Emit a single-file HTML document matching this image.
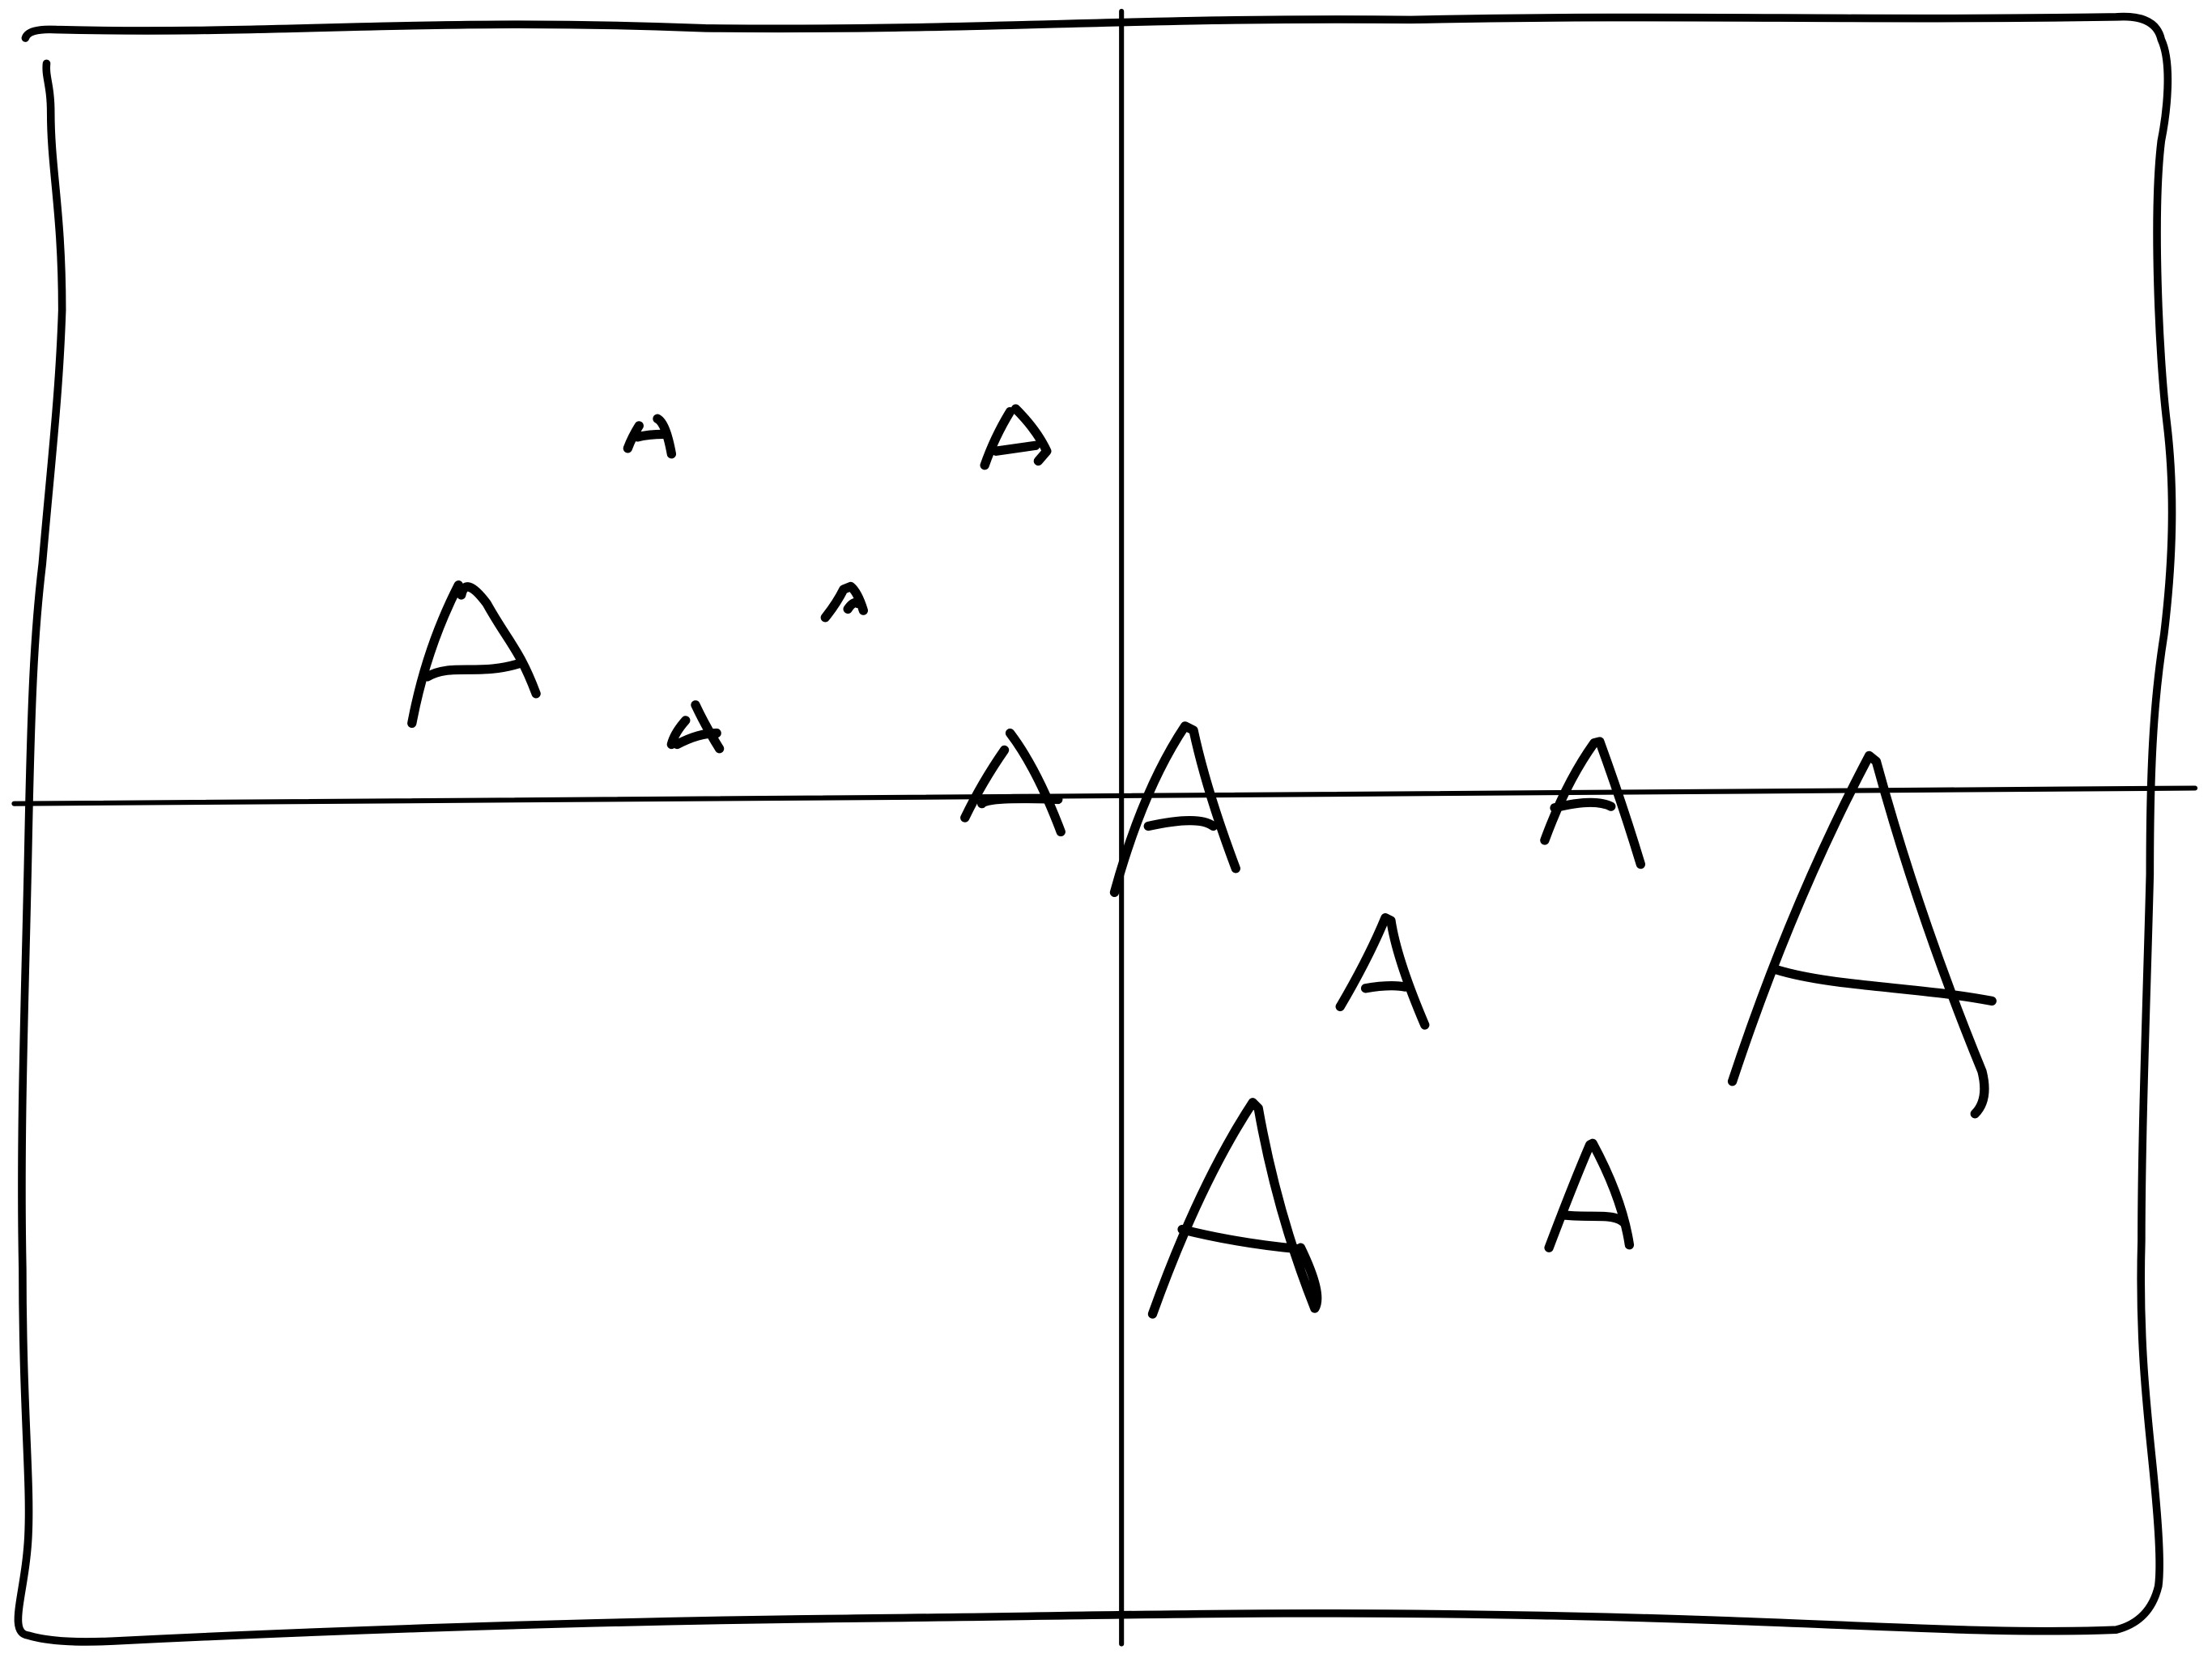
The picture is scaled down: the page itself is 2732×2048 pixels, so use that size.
<!DOCTYPE html>
<html><head><meta charset="utf-8"><style>
html,body{margin:0;padding:0;background:#fff;width:2732px;height:2048px;overflow:hidden}
svg{display:block}
</style></head><body>
<svg width="2732" height="2048" viewBox="0 0 1568 1176" preserveAspectRatio="none" xmlns="http://www.w3.org/2000/svg">
<g fill="none" stroke="#000" stroke-linecap="round" stroke-linejoin="round">
<path stroke-width="5.5" d="M18,27 Q20,20 40,21 C200,25 300,12 500,20 C700,22 800,12 1000,14 C1200,10 1300,15 1500,12 Q1528,10 1532,28 C1540,45 1536,80 1532,100 C1526,150 1530,250 1536,300 C1542,350 1540,400 1534,450 C1526,500 1524,550 1524,620 C1522,700 1518,800 1518,880 C1516,950 1522,1000 1526,1040 C1530,1080 1532,1110 1530,1125 Q1524,1150 1500,1156 C1400,1160 1300,1150 1100,1146 C900,1142 800,1146 600,1148 C400,1150 200,1158 80,1164 Q40,1166 20,1160 C5,1158 18,1130 20,1090 C22,1050 16,1000 16,900 C14,800 18,700 20,600 C22,500 24,450 30,400 C36,330 42,280 44,220 C44,150 36,120 36,80 C36,60 32,55 33,45"/>
<path stroke-width="3.5" d="M795,8 L795,1166"/>
<path stroke-width="3.5" d="M10,570 L1556,559"/>
<g stroke-width="6.5">
<path d="M292,513 Q302,460 325,415 M327,422 Q330,408 345,428 C360,455 368,460 380,492 M303,480 C320,470 340,480 370,470"/>
<path d="M445,318 Q448,310 453,302 M466,297 Q472,300 476,322 M452,310 Q460,308 470,308"/>
<path d="M698,330 Q705,310 716,292 M720,290 Q735,305 742,320 L736,327 M706,320 Q720,318 734,316"/>
<path d="M585,438 Q593,428 598,418 L603,416 Q608,420 612,433 M601,432 Q605,426 608,428"/>
<path d="M476,528 Q478,520 486,511 M493,500 Q500,515 510,531 M480,528 Q495,520 508,520"/>
<path d="M684,580 Q696,555 712,532 M716,520 Q735,545 752,590 M696,570 Q700,565 750,567"/>
<path d="M790,633 Q810,560 840,515 L846,518 Q855,560 876,616 M814,586 Q850,578 860,586"/>
<path d="M1095,596 Q1110,555 1130,527 L1134,526 Q1150,570 1163,613 M1102,573 Q1130,566 1142,572"/>
<path d="M1228,767 Q1270,640 1325,536 L1330,540 Q1360,650 1405,760 Q1410,780 1400,790 M1260,688 C1300,700 1360,700 1412,710"/>
<path d="M950,714 Q970,680 982,651 L986,653 Q990,680 1010,727 M968,701 Q985,698 996,700"/>
<path d="M817,932 Q850,840 888,782 L892,786 Q905,860 932,928 Q938,918 922,885 M838,872 C870,880 900,884 922,886"/>
<path d="M1098,885 Q1115,840 1127,812 L1129,811 Q1150,850 1155,883 M1110,862 C1130,864 1145,860 1152,868"/>
</g>
</g>
</svg>
</body></html>
